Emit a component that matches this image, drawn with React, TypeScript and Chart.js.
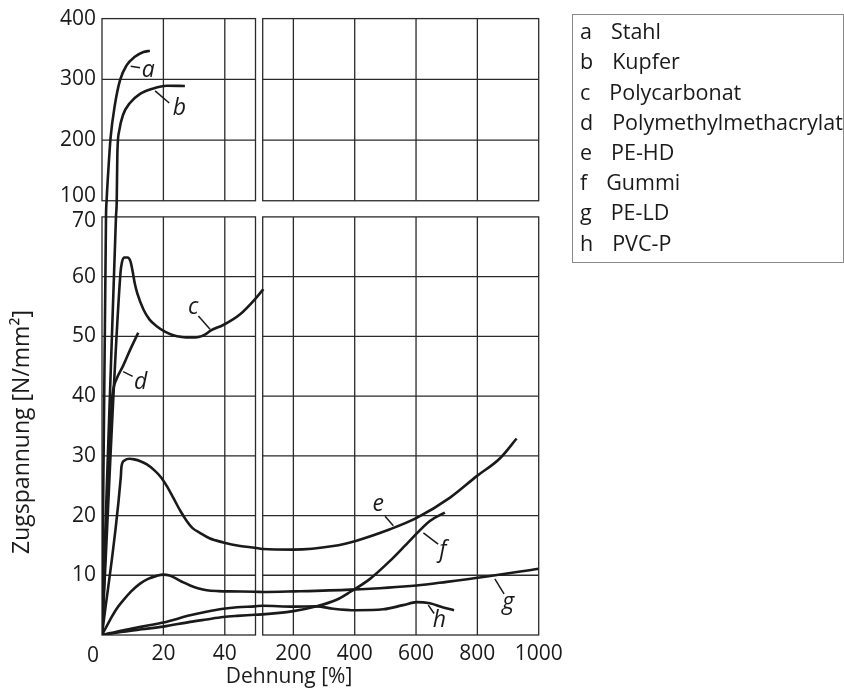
import React, { useEffect, useRef } from 'react';
import { Chart, registerables, LinearScale } from 'chart.js';

Chart.register(...registerables);

// ---------- axis definitions ----------
const X_TICKS = [20, 40, 200, 400, 600, 800, 1000];
const Y_TICKS = [10, 20, 30, 40, 50, 60, 70, 100, 200, 300, 400];
const X_GRID = [20, 40, 200, 400, 600, 800];
const Y_GRID = [10, 20, 30, 40, 50, 60, 200, 300];
const X_PANELS = [[0, 50], [100, 1000]];
const Y_PANELS = [[0, 70], [100, 400]];
// broken-axis value stops and the share of the axis length they take
const X_BREAK_VALUES = [0, 50, 100, 1000];
const X_BREAK_FRACS = [0, 0.3515, 0.368, 1];
const Y_BREAK_VALUES = [0, 70, 100, 400];
const Y_BREAK_FRACS = [0, 0.6783, 0.7045, 1];

// ---------- legend ----------
const LETTERS = ['a', 'b', 'c', 'd', 'e', 'f', 'g', 'h'];
const MATERIALS = ['Stahl', 'Kupfer', 'Polycarbonat', 'Polymethylmethacrylat', 'PE-HD', 'Gummi', 'PE-LD', 'PVC-P'];

// ---------- series [Dehnung %, Zugspannung N/mm²] ----------
const stahl = [[0, 0], [1.3, 70], [1.5, 100], [2.05, 149], [2.8, 204], [4.2, 258], [5.9, 299], [8, 323], [10.7, 337], [13.5, 345], [15.6, 347]];
const kupfer = [[0, 0], [4.55, 70], [4.8, 100], [5.0, 177], [5.6, 215], [6.9, 242], [9.1, 261], [12.4, 276], [16.7, 285], [21.1, 289.5], [27, 289]];
const polycarbonat = [[0, 0], [6.0, 60.5], [6.5, 62.4], [7.3, 63.2], [8.3, 63.2], [9.3, 62.5], [10.0, 60.8], [10.7, 58.8], [11.5, 57.2], [13.5, 54.5], [15.5, 52.8], [17.8, 51.7], [20.5, 50.8], [23.2, 50.2], [26, 49.9], [28.7, 49.8], [31.5, 49.9], [33.5, 50.3], [35.5, 51], [39.5, 51.9], [45, 53.7], [49.8, 56.2], [102, 57.9]];
const pmma = [[0, 0], [3.2, 39], [3.7, 41.2], [4.6, 42.7], [6.9, 45.1], [9.3, 47.9], [11.8, 50.6]];
const pehd = [[0, 0], [6.1, 26.3], [6.35, 28.2], [7.3, 29.2], [9, 29.5], [10.5, 29.4], [12.5, 29.1], [14.5, 28.6], [17, 27.6], [19.4, 26.3], [21.5, 24.6], [23.2, 23], [25.5, 20.8], [27.6, 19.1], [29.5, 17.9], [31.9, 17.1], [35, 16.2], [39.5, 15.5], [45, 14.9], [49.8, 14.6], [100, 14.4], [200, 14.3], [330, 14.9], [406, 15.8], [515, 17.7], [602, 19.6], [711, 23], [798, 26.6], [874, 29.6], [928, 32.9]];
const gummi = [[0, 0], [7, 0.55], [13, 0.95], [20, 1.4], [28.7, 2.2], [34, 2.6], [39.5, 3.0], [44, 3.2], [49.8, 3.4], [100, 3.45], [200, 4.0], [276, 4.8], [341, 5.9], [385, 7.2], [450, 9.4], [515, 12.4], [580, 15.8], [645, 19.1], [694, 20.5]];
const peld = [[0, 0], [2.6, 2.5], [4.5, 4.2], [6.9, 5.8], [9.5, 7.3], [12.4, 8.6], [15, 9.4], [17.8, 9.9], [20, 10.1], [22, 9.95], [24.3, 9.4], [26.5, 8.8], [28.7, 8.3], [31.5, 7.8], [34.1, 7.5], [38, 7.35], [41.7, 7.3], [49.8, 7.25], [100, 7.2], [200, 7.3], [385, 7.6], [602, 8.3], [700, 8.9], [819, 9.7], [1000, 11.1]];
const pvcp = [[0, 0], [7, 0.8], [13, 1.4], [20, 2.1], [28.7, 3.3], [34, 3.9], [39.5, 4.4], [44, 4.65], [49.8, 4.8], [100, 4.9], [200, 4.75], [276, 4.8], [330, 4.4], [406, 4.15], [493, 4.3], [558, 5.0], [602, 5.5], [645, 5.3], [689, 4.6], [724, 4.15]];
const SERIES = [stahl, kupfer, polycarbonat, pmma, pehd, gummi, peld, pvcp];

// curve labels: [letter, textX, textY, leaderX1, leaderY1, leaderX2, leaderY2] in data units
const CURVE_LABELS = [
  ['a', 15.1, 315, 9.35, 321.6, 12.4, 319],
  ['b', 25.2, 252.8, 17.3, 281, 21.9, 260.9],
  ['c', 29.7, 54.9, 31.4, 53.4, 35.2, 51.2],
  ['d', 12.6, 42.3, 6.9, 44.1, 10, 43.3],
  ['e', 477, 21.9, 499, 19.9, 526, 18.3],
  ['f', 687, 14.1, 624, 17.1, 672, 15.2],
  ['g', 901, 5.4, 857, 9.4, 887, 6.9],
  ['h', 676, 2.5, 640, 5.0, 659, 3.6],
];

const FONT = '"Open Sans", "DejaVu Sans", sans-serif';
const INK = '#1a1a1a';

function interp(v, from, to) {
  const n = from.length;
  if (v <= from[0]) return to[0] + (v - from[0]) * (to[1] - to[0]) / (from[1] - from[0]);
  for (let i = 1; i < n; i++) {
    if (v <= from[i]) {
      return to[i - 1] + (v - from[i - 1]) * (to[i] - to[i - 1]) / (from[i] - from[i - 1]);
    }
  }
  return to[n - 2] + (v - from[n - 2]) * (to[n - 1] - to[n - 2]) / (from[n - 1] - from[n - 2]);
}

function makeBrokenScale(id, values, fracs, tickValues) {
  class BrokenScale extends LinearScale {
    static id = id;
    buildTicks() {
      return tickValues.map((v) => ({ value: v }));
    }
    getPixelForValue(value) {
      if (value === null || value === undefined || isNaN(value)) return NaN;
      return this.getPixelForDecimal(interp(value, values, fracs));
    }
    getValueForPixel(pixel) {
      return interp(this.getDecimalForPixel(pixel), fracs, values);
    }
  }
  return BrokenScale;
}

const BrokenX = makeBrokenScale('brokenX', X_BREAK_VALUES, X_BREAK_FRACS, X_TICKS);
const BrokenY = makeBrokenScale('brokenY', Y_BREAK_VALUES, Y_BREAK_FRACS, Y_TICKS);
Chart.register(BrokenX, BrokenY);

const decorPlugin = {
  id: 'decor',
  beforeDatasetsDraw(chart) {
    const { ctx } = chart;
    const x = chart.scales.x;
    const y = chart.scales.y;
    ctx.save();
    ctx.strokeStyle = '#2a2a2a';
    ctx.lineWidth = 1.3;
    for (const [x0, x1] of X_PANELS) {
      for (const [y0, y1] of Y_PANELS) {
        const l = x.getPixelForValue(x0);
        const r = x.getPixelForValue(x1);
        const t = y.getPixelForValue(y1);
        const b = y.getPixelForValue(y0);
        ctx.beginPath();
        for (const gx of X_GRID) {
          if (gx > x0 && gx < x1) {
            const px = x.getPixelForValue(gx);
            ctx.moveTo(px, t);
            ctx.lineTo(px, b);
          }
        }
        for (const gy of Y_GRID) {
          if (gy > y0 && gy < y1) {
            const py = y.getPixelForValue(gy);
            ctx.moveTo(l, py);
            ctx.lineTo(r, py);
          }
        }
        ctx.stroke();
        ctx.strokeRect(l, t, r - l, b - t);
      }
    }
    ctx.restore();
  },
  afterDatasetsDraw(chart) {
    const { ctx } = chart;
    const x = chart.scales.x;
    const y = chart.scales.y;
    ctx.save();
    // curve labels with leader lines
    ctx.strokeStyle = INK;
    ctx.lineWidth = 1.5;
    ctx.fillStyle = INK;
    ctx.font = `italic 23px ${FONT}`;
    ctx.textAlign = 'center';
    ctx.textBaseline = 'middle';
    for (const [letter, tx, ty, lx1, ly1, lx2, ly2] of CURVE_LABELS) {
      ctx.beginPath();
      ctx.moveTo(x.getPixelForValue(lx1), y.getPixelForValue(ly1));
      ctx.lineTo(x.getPixelForValue(lx2), y.getPixelForValue(ly2));
      ctx.stroke();
      ctx.fillText(letter, x.getPixelForValue(tx), y.getPixelForValue(ty));
    }
    // origin label
    ctx.font = `21px ${FONT}`;
    ctx.fillText('0', x.getPixelForValue(0) - 9, y.getPixelForValue(0) + 21);
    // axis titles
    ctx.font = `21px ${FONT}`;
    ctx.fillText('Dehnung [%]', 289, 677);
    ctx.translate(22, 432);
    ctx.rotate(-Math.PI / 2);
    ctx.font = `23px ${FONT}`;
    ctx.fillText('Zugspannung [N/mm²]', 0, 0);
    ctx.restore();

    // legend box
    ctx.save();
    ctx.strokeStyle = '#8a8a8a';
    ctx.lineWidth = 1;
    ctx.strokeRect(572.5, 14.5, 271, 248);
    ctx.fillStyle = INK;
    ctx.font = `21.5px ${FONT}`;
    ctx.textAlign = 'left';
    ctx.textBaseline = 'middle';
    LETTERS.forEach((l, i) => {
      const py = 33 + i * 30.2;
      ctx.fillText(l, 580, py);
      const w = ctx.measureText(l).width;
      ctx.fillText(MATERIALS[i], 580 + w + 19, py);
    });
    ctx.restore();
  },
};

// the labels at the y-axis break are nudged apart (100 up, 70 down)
const yTickLabel = (v) => {
  if (v === 100) return ['100', ''];
  if (v === 70) return ['', '70'];
  return String(v);
};
const yTickFont = (c) => {
  const v = c.tick ? c.tick.value : null;
  return { family: FONT, size: 21, lineHeight: v === 100 || v === 70 ? 0.42 : 1.2 };
};

export default function App() {
  const canvasRef = useRef(null);
  useEffect(() => {
    const chart = new Chart(canvasRef.current, {
      type: 'line',
      data: {
        datasets: SERIES.map((s, i) => ({
          label: MATERIALS[i],
          data: s.map(([px, py]) => ({ x: px, y: py })),
          borderColor: INK,
          borderWidth: 2.6,
          pointRadius: 0,
          fill: false,
          cubicInterpolationMode: 'monotone',
        })),
      },
      options: {
        responsive: false,
        animation: false,
        events: [],
        layout: { padding: { top: 13.3, right: 305.3, left: 0, bottom: 0 } },
        plugins: { legend: { display: false }, tooltip: { enabled: false } },
        scales: {
          x: {
            type: 'brokenX',
            position: 'bottom',
            min: 0,
            max: 1000,
            grid: { display: false, drawTicks: false },
            border: { display: false },
            ticks: {
              autoSkip: false,
              maxRotation: 0,
              padding: 6,
              color: INK,
              font: { family: FONT, size: 21 },
              callback: (v) => String(v),
            },
            afterFit: (s) => { s.height = 56; },
          },
          y: {
            type: 'brokenY',
            position: 'left',
            min: 0,
            max: 400,
            grid: { display: false, drawTicks: false },
            border: { display: false },
            ticks: {
              autoSkip: false,
              padding: 6,
              color: INK,
              font: yTickFont,
              callback: yTickLabel,
            },
            afterFit: (s) => { s.width = 102; },
          },
        },
      },
      plugins: [decorPlugin],
    });
    return () => chart.destroy();
  }, []);
  return (
    <div style={{ position: 'fixed', left: 0, top: 0, width: 844, height: 691, background: '#fff' }}>
      <canvas ref={canvasRef} width={844} height={691} style={{ display: 'block' }} />
    </div>
  );
}
